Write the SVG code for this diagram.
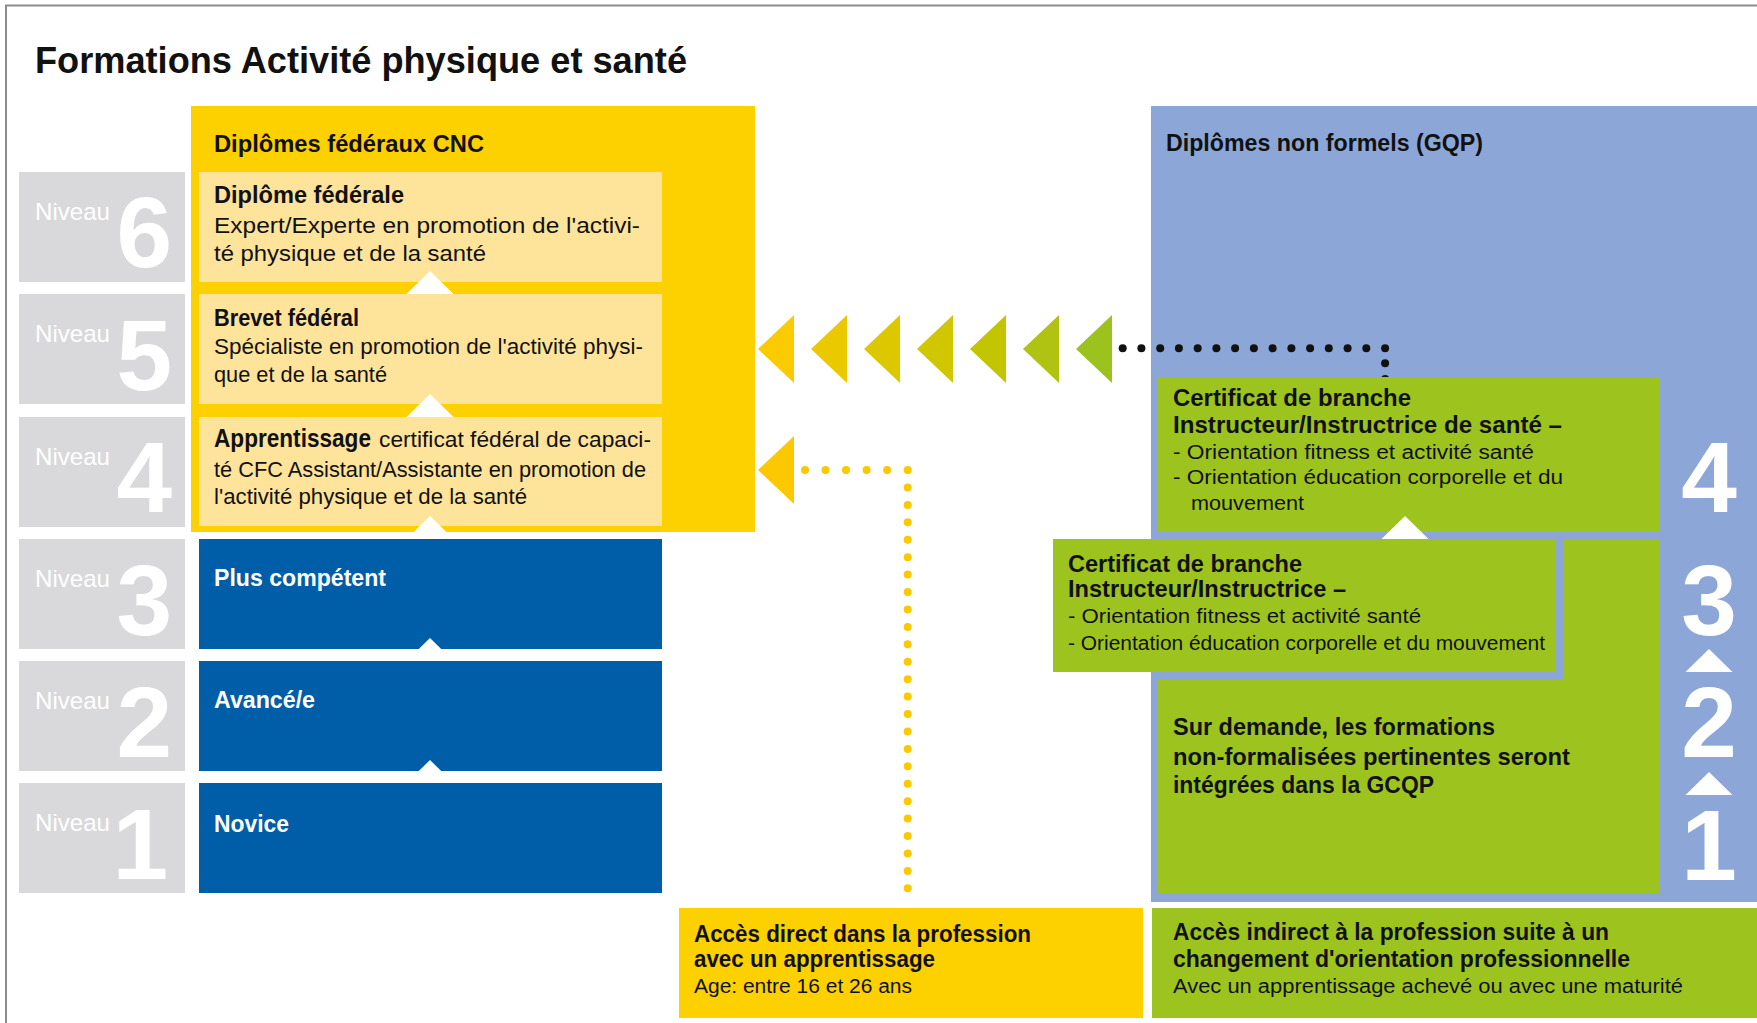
<svg xmlns="http://www.w3.org/2000/svg" width="1757" height="1023" viewBox="0 0 1757 1023">
<style>
text{font-family:"Liberation Sans",Arial,sans-serif;}
.t{font-size:36px;font-weight:bold;fill:#111;}
.h{font-size:24px;font-weight:bold;fill:#111;}
.b{font-size:23px;font-weight:bold;fill:#111;}
.r{font-size:22px;fill:#111;}
.s{font-size:20px;fill:#111;}
.w{font-size:23px;font-weight:bold;fill:#fff;}
.nv{font-size:24px;fill:#fff;}
.dg{font-size:100px;font-weight:bold;fill:#fff;}
.gray{fill:#d9d9db;}
.ly{fill:#fee49a;}
.yl{fill:#fdd000;}
.bl{fill:#005da8;}
.lb{fill:#8ca7d7;}
.gr{fill:#9dc41e;}
.tri{fill:#fff;}
.yd{fill:#fcc800;}
.kd{fill:#111;}
</style>
<defs>
<polygon id="up" points="0,0 23.5,23 -23.5,23"/>
<circle id="yd" r="4" class="yd"/>
<circle id="kd" r="4" class="kd"/>
<polygon id="la" points="0,0 36,-34 36,34"/>
</defs>
<rect width="1757" height="1023" fill="#fff"/>
<g id="frame"><path d="M6,1023 V5.5 H1757" fill="none" stroke="#8c8c8c" stroke-width="2"/></g>
<g id="title"><text class="t" x="35" y="73" textLength="652" lengthAdjust="spacingAndGlyphs">Formations Activité physique et santé</text></g>

<g id="federal">
<rect class="yl" x="191" y="106" width="564" height="426"/>
<text class="h" x="214" y="152" textLength="270" lengthAdjust="spacingAndGlyphs">Diplômes fédéraux CNC</text>
</g>
<g id="nonformel">
<rect class="lb" x="1151" y="106" width="606" height="796"/>
<text class="h" x="1166" y="151" textLength="317" lengthAdjust="spacingAndGlyphs">Diplômes non formels (GQP)</text>
</g>

<g id="niveaux">
<g id="niveau6"><rect class="gray" x="19" y="172" width="166" height="110"/><text class="nv" x="35" y="220" textLength="75" lengthAdjust="spacingAndGlyphs">Niveau</text><text class="dg" x="172" y="267" text-anchor="end">6</text></g>
<g id="niveau5"><rect class="gray" x="19" y="294" width="166" height="110"/><text class="nv" x="35" y="342" textLength="75" lengthAdjust="spacingAndGlyphs">Niveau</text><text class="dg" x="172" y="390" text-anchor="end">5</text></g>
<g id="niveau4"><rect class="gray" x="19" y="417" width="166" height="110"/><text class="nv" x="35" y="465" textLength="75" lengthAdjust="spacingAndGlyphs">Niveau</text><text class="dg" x="172" y="512" text-anchor="end">4</text></g>
<g id="niveau3"><rect class="gray" x="19" y="539" width="166" height="110"/><text class="nv" x="35" y="587" textLength="75" lengthAdjust="spacingAndGlyphs">Niveau</text><text class="dg" x="172" y="635" text-anchor="end">3</text></g>
<g id="niveau2"><rect class="gray" x="19" y="661" width="166" height="110"/><text class="nv" x="35" y="709" textLength="75" lengthAdjust="spacingAndGlyphs">Niveau</text><text class="dg" x="172" y="757" text-anchor="end">2</text></g>
<g id="niveau1"><rect class="gray" x="19" y="783" width="166" height="110"/><text class="nv" x="35" y="831" textLength="75" lengthAdjust="spacingAndGlyphs">Niveau</text><text class="dg" x="168" y="879" text-anchor="end">1</text></g>
</g>

<g id="diplome-federal">
<rect class="ly" x="199" y="172" width="463" height="110"/>
<text class="b" x="214" y="203" textLength="190" lengthAdjust="spacingAndGlyphs">Diplôme fédérale</text>
<text class="r" x="214" y="233" textLength="426" lengthAdjust="spacingAndGlyphs">Expert/Experte en promotion de l'activi-</text>
<text class="r" x="214" y="261" textLength="272" lengthAdjust="spacingAndGlyphs">té physique et de la santé</text>
</g>
<g id="brevet-federal">
<rect class="ly" x="199" y="294" width="463" height="110"/>
<text class="b" x="214" y="326" textLength="145" lengthAdjust="spacingAndGlyphs">Brevet fédéral</text>
<text class="r" x="214" y="354" textLength="429" lengthAdjust="spacingAndGlyphs">Spécialiste en promotion de l'activité physi-</text>
<text class="r" x="214" y="382" textLength="173" lengthAdjust="spacingAndGlyphs">que et de la santé</text>
</g>
<g id="apprentissage">
<rect class="ly" x="199" y="417" width="463" height="109"/>
<text class="b" x="214" y="447" style="font-size:25px" textLength="157" lengthAdjust="spacingAndGlyphs">Apprentissage</text>
<text class="r" x="379" y="447" textLength="272" lengthAdjust="spacingAndGlyphs">certificat fédéral de capaci-</text>
<text class="r" x="214" y="477" textLength="432" lengthAdjust="spacingAndGlyphs">té CFC Assistant/Assistante en promotion de</text>
<text class="r" x="214" y="504" textLength="313" lengthAdjust="spacingAndGlyphs">l'activité physique et de la santé</text>
</g>
<g id="plus-competent">
<rect class="bl" x="199" y="539" width="463" height="110"/>
<text class="w" x="214" y="586" textLength="172" lengthAdjust="spacingAndGlyphs">Plus compétent</text>
</g>
<g id="avance">
<rect class="bl" x="199" y="661" width="463" height="110"/>
<text class="w" x="214" y="708" textLength="101" lengthAdjust="spacingAndGlyphs">Avancé/e</text>
</g>
<g id="novice">
<rect class="bl" x="199" y="783" width="463" height="110"/>
<text class="w" x="214" y="832" textLength="75" lengthAdjust="spacingAndGlyphs">Novice</text>
</g>
<g id="steps-left">
<use href="#up" class="tri" x="430" y="271"/>
<use href="#up" class="tri" x="430" y="394"/>
<use href="#up" class="tri" x="430" y="516"/>
<use href="#up" class="tri" x="430" y="638"/>
<use href="#up" class="tri" x="430" y="760"/>
</g>

<g id="connectors">
<g id="arrows-green">
<use href="#la" x="758" y="349" fill="#f9cb00"/>
<use href="#la" x="811" y="349" fill="#eac900"/>
<use href="#la" x="864" y="349" fill="#ddc800"/>
<use href="#la" x="917" y="349" fill="#d1c700"/>
<use href="#la" x="970" y="349" fill="#c3c500"/>
<use href="#la" x="1023" y="349" fill="#b1c312"/>
<use href="#la" x="1076" y="349" fill="#9cc21e"/>
</g>
<g id="black-dots">
<use href="#kd" x="1122.7" y="348.3"/><use href="#kd" x="1141.4" y="348.3"/><use href="#kd" x="1160.2" y="348.3"/><use href="#kd" x="1178.9" y="348.3"/><use href="#kd" x="1197.7" y="348.3"/>
<use href="#kd" x="1216.4" y="348.3"/><use href="#kd" x="1235.1" y="348.3"/><use href="#kd" x="1253.9" y="348.3"/><use href="#kd" x="1272.6" y="348.3"/><use href="#kd" x="1291.4" y="348.3"/>
<use href="#kd" x="1310.1" y="348.3"/><use href="#kd" x="1328.8" y="348.3"/><use href="#kd" x="1347.6" y="348.3"/><use href="#kd" x="1366.3" y="348.3"/><use href="#kd" x="1385.1" y="348.3"/>
<use href="#kd" x="1385.1" y="363.3"/><use href="#kd" x="1385.1" y="379"/>
</g>
<g id="arrow-yellow">
<use href="#la" x="758" y="470" fill="#fcc800"/>
</g>
<g id="yellow-dots">
<use href="#yd" x="805" y="470"/><use href="#yd" x="825.5" y="470"/><use href="#yd" x="846" y="470"/><use href="#yd" x="866.6" y="470"/><use href="#yd" x="887.1" y="470"/><use href="#yd" x="907.7" y="470"/>
<use href="#yd" x="907.7" y="487.4"/><use href="#yd" x="907.7" y="504.9"/><use href="#yd" x="907.7" y="522.3"/><use href="#yd" x="907.7" y="539.7"/><use href="#yd" x="907.7" y="557.2"/>
<use href="#yd" x="907.7" y="574.6"/><use href="#yd" x="907.7" y="592"/><use href="#yd" x="907.7" y="609.4"/><use href="#yd" x="907.7" y="626.9"/><use href="#yd" x="907.7" y="644.3"/>
<use href="#yd" x="907.7" y="661.7"/><use href="#yd" x="907.7" y="679.2"/><use href="#yd" x="907.7" y="696.6"/><use href="#yd" x="907.7" y="714"/><use href="#yd" x="907.7" y="731.5"/>
<use href="#yd" x="907.7" y="748.9"/><use href="#yd" x="907.7" y="766.3"/><use href="#yd" x="907.7" y="783.7"/><use href="#yd" x="907.7" y="801.2"/><use href="#yd" x="907.7" y="818.6"/>
<use href="#yd" x="907.7" y="836"/><use href="#yd" x="907.7" y="853.5"/><use href="#yd" x="907.7" y="870.9"/><use href="#yd" x="907.7" y="888.3"/>
</g>
</g>

<g id="certificat-sante">
<rect class="gr" x="1158" y="377" width="502" height="154"/>
<text class="h" x="1173" y="406" textLength="238" lengthAdjust="spacingAndGlyphs">Certificat de branche</text>
<text class="h" x="1173" y="433" textLength="389" lengthAdjust="spacingAndGlyphs">Instructeur/Instructrice de santé –</text>
<text class="s" x="1173" y="459" textLength="361" lengthAdjust="spacingAndGlyphs">- Orientation fitness et activité santé</text>
<text class="s" x="1173" y="484" textLength="390" lengthAdjust="spacingAndGlyphs">- Orientation éducation corporelle et du</text>
<text class="s" x="1191" y="510" textLength="113" lengthAdjust="spacingAndGlyphs">mouvement</text>
</g>
<g id="sur-demande">
<rect class="gr" x="1158" y="539" width="502" height="354"/>
<rect class="lb" x="1151" y="531" width="413" height="149"/>
<text class="h" x="1173" y="735" textLength="322" lengthAdjust="spacingAndGlyphs">Sur demande, les formations</text>
<text class="h" x="1173" y="765" textLength="397" lengthAdjust="spacingAndGlyphs">non-formalisées pertinentes seront</text>
<text class="h" x="1173" y="793" textLength="261" lengthAdjust="spacingAndGlyphs">intégrées dans la GCQP</text>
</g>
<g id="certificat-instructeur">
<rect class="gr" x="1053" y="539" width="503" height="133"/>
<text class="h" x="1068" y="572" textLength="234" lengthAdjust="spacingAndGlyphs">Certificat de branche</text>
<text class="h" x="1068" y="597" textLength="278" lengthAdjust="spacingAndGlyphs">Instructeur/Instructrice –</text>
<text class="s" x="1068" y="623" textLength="353" lengthAdjust="spacingAndGlyphs">- Orientation fitness et activité santé</text>
<text class="s" x="1068" y="650" textLength="477" lengthAdjust="spacingAndGlyphs">- Orientation éducation corporelle et du mouvement</text>
</g>
<g id="steps-right">
<use href="#up" class="tri" x="1405" y="516"/>
<use href="#up" class="tri" x="1709" y="649"/>
<use href="#up" class="tri" x="1709" y="772"/>
<text class="dg" x="1709" y="512" text-anchor="middle">4</text>
<text class="dg" x="1709" y="635" text-anchor="middle">3</text>
<text class="dg" x="1709" y="757" text-anchor="middle">2</text>
<text class="dg" x="1709" y="880" text-anchor="middle">1</text>
</g>

<g id="acces-direct">
<rect class="yl" x="679" y="908" width="464" height="110"/>
<text class="h" x="694" y="942" textLength="337" lengthAdjust="spacingAndGlyphs">Accès direct dans la profession</text>
<text class="h" x="694" y="967" textLength="241" lengthAdjust="spacingAndGlyphs">avec un apprentissage</text>
<text class="s" x="694" y="993" textLength="218" lengthAdjust="spacingAndGlyphs">Age: entre 16 et 26 ans</text>
</g>
<g id="acces-indirect">
<rect class="gr" x="1152" y="908" width="605" height="110"/>
<text class="h" x="1173" y="940" textLength="436" lengthAdjust="spacingAndGlyphs">Accès indirect à la profession suite à un</text>
<text class="h" x="1173" y="967" textLength="457" lengthAdjust="spacingAndGlyphs">changement d'orientation professionnelle</text>
<text class="s" x="1173" y="993" textLength="510" lengthAdjust="spacingAndGlyphs">Avec un apprentissage achevé ou avec une maturité</text>
</g>
</svg>
